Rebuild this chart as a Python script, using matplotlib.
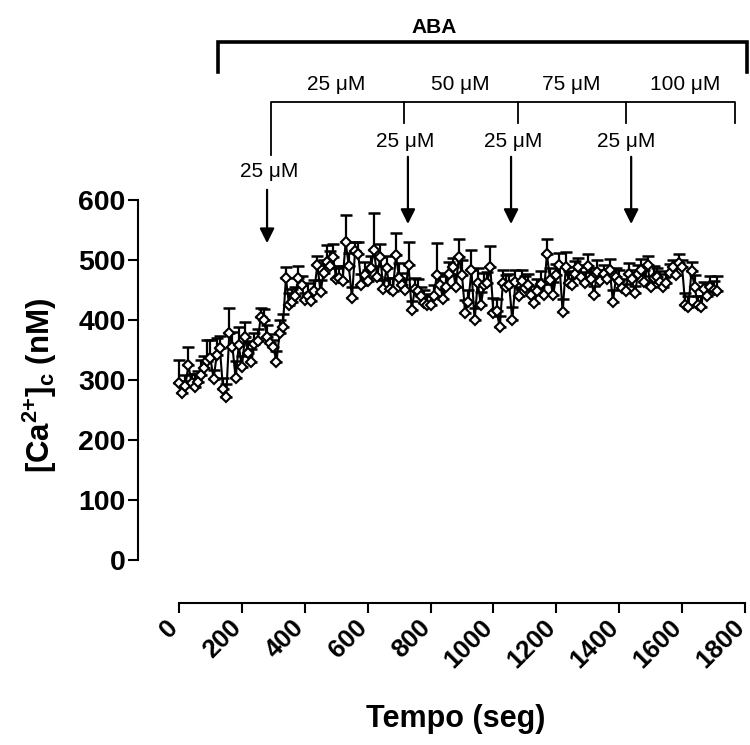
import numpy as np
import matplotlib
matplotlib.use("Agg")
import matplotlib.pyplot as plt
from matplotlib.transforms import ScaledTranslation

plt.rcParams['font.family'] = ['Liberation Sans', 'DejaVu Sans']
plt.rcParams['mathtext.fontset'] = 'custom'
plt.rcParams['mathtext.rm'] = 'Liberation Sans:bold'
plt.rcParams['mathtext.bf'] = 'Liberation Sans:bold'
plt.rcParams['mathtext.it'] = 'Liberation Sans:bold'
plt.rcParams['mathtext.default'] = 'bf'

# ---- data (time in s, [Ca2+]c in nM, upward SEM) ----
time_step = 10
ca_values = [
    295, 278, 290, 325, 295, 288, 297, 308, 320, 332,
    336, 302, 342, 353, 285, 272, 378, 355, 303, 358,
    322, 372, 345, 330, 360, 365, 405, 400, 372, 362,
    355, 330, 378, 388, 470, 425, 430, 440, 470, 458,
    433, 440, 432, 448, 492, 447, 478, 497, 490, 505,
    468, 470, 465, 530, 490, 437, 515, 510, 458, 475,
    465, 487, 517, 472, 505, 452, 487, 452, 448, 508,
    470, 458, 450, 492, 417, 452, 448, 440, 428, 425,
    425, 440, 475, 458, 435, 455, 477, 488, 455, 505,
    475, 412, 430, 483, 400, 462, 425, 458, 462, 488,
    412, 415, 388, 462, 455, 458, 400, 463, 440, 465,
    453, 458, 442, 428, 448, 460, 442, 510, 467, 442,
    475, 492, 413, 488, 462, 458, 477, 488, 472, 462,
    490, 468, 442, 480, 465, 477, 468, 483, 430, 472,
    465, 453, 448, 477, 468, 445, 477, 483, 463, 492,
    455, 470, 472, 463, 455, 462, 478, 488, 475, 495,
    488, 425, 422, 482, 455, 425, 422, 452, 440, 455,
    450, 448,
]
ca_sem = [
    38, 20, 18, 30, 15, 22, 18, 25, 20, 35,
    30, 15, 28, 20, 18, 22, 42, 25, 28, 30,
    18, 24, 20, 22, 18, 20, 15, 18, 20, 15,
    12, 18, 22, 22, 18, 20, 22, 15, 20, 15,
    12, 22, 15, 18, 15, 20, 22, 28, 25, 22,
    18, 20, 25, 45, 22, 18, 15, 20, 18, 22,
    18, 20, 62, 18, 22, 15, 20, 18, 22, 37,
    25, 20, 18, 38, 15, 18, 20, 15, 22, 18,
    15, 18, 53, 20, 22, 18, 20, 15, 22, 30,
    25, 22, 20, 34, 20, 25, 22, 20, 18, 35,
    25, 20, 18, 22, 20, 18, 22, 20, 15, 18,
    20, 18, 15, 18, 20, 22, 18, 25, 20, 22,
    18, 20, 22, 25, 20, 18, 22, 15, 20, 18,
    20, 18, 15, 20, 18, 15, 12, 18, 20, 15,
    18, 15, 12, 18, 15, 12, 15, 18, 20, 15,
    18, 20, 15, 18, 12, 15, 15, 12, 18, 15,
    12, 20, 18, 15, 20, 15, 18, 12, 22, 18,
    15, 25,
]
time_s = np.arange(len(ca_values)) * time_step

x_ticks = [0, 200, 400, 600, 800, 1000, 1200, 1400, 1600, 1800]
y_ticks = [0, 100, 200, 300, 400, 500, 600]

fig = plt.figure(figsize=(7.5, 7.45), dpi=100)
ax = fig.add_axes([138/750, 1-603/745, (760-138)/750, (603-200)/745])

ax.errorbar(time_s, ca_values, yerr=[np.zeros(len(ca_sem)), ca_sem],
            fmt='none', ecolor='black', elinewidth=1.6, capsize=4, capthick=1.8, zorder=2)
ax.plot(time_s, ca_values, color='black', lw=1.5, zorder=3)
ax.plot(time_s, ca_values, linestyle='none', marker='D', markersize=5.5,
        markerfacecolor='white', markeredgecolor='black', markeredgewidth=1.5, zorder=4)

ax.set_xlim(-130.4, 1847.7)
ax.set_ylim(-71.7, 600)
for s in ['top', 'right']:
    ax.spines[s].set_visible(False)
ax.spines['left'].set_bounds(0, 600)
ax.spines['bottom'].set_bounds(0, 1800)
ax.spines['left'].set_linewidth(1.5)
ax.spines['bottom'].set_linewidth(1.5)
ax.set_xticks(x_ticks)
ax.set_yticks(y_ticks)
ax.tick_params(axis='both', direction='out', length=7, width=1.5)
ax.tick_params(axis='y', pad=2)
ax.set_yticklabels([str(v) for v in y_ticks], fontsize=20.5, fontweight='bold')
ax.set_xticklabels([str(v) for v in x_ticks], fontsize=18.5, fontweight='bold',
                   rotation=45, ha='right', va='top')
ax.tick_params(axis='x', pad=2)
shift = ScaledTranslation(4/100, 0, fig.dpi_scale_trans)
for lab in ax.get_xticklabels():
    lab.set_transform(lab.get_transform() + shift)

fig.text(456/750, 1-719/745, 'Tempo (seg)', fontsize=22, fontweight='bold',
         ha='center', va='center')
fig.text(40/750, 1-385/745, r'[Ca$^{2{+}}$]$_c$ (nM)', fontsize=22.5, fontweight='bold',
         rotation=90, ha='center', va='center')

# ---- annotations (data coordinates) ----
kw = dict(color='black', clip_on=False)
# ABA bracket
ax.plot([123, 123, 1805, 1805], [813, 864, 864, 813], lw=2.6, solid_joinstyle='miter', **kw)
ax.text(811, 888, 'ABA', fontsize=15, fontweight='bold', ha='center', va='center')
# concentration bracket
ax.plot([293, 293, 1767, 1767], [675, 763, 763, 728], lw=1.3, **kw)
for tx in [716, 1078, 1422]:
    ax.plot([tx, tx], [763, 728], lw=1.3, **kw)
for tx, lab in zip([499, 894, 1247, 1609], ['25 μM', '50 μM', '75 μM', '100 μM']):
    ax.text(tx, 792, lab, fontsize=15, ha='center', va='center')
# arrows
arrow_kw = dict(arrowstyle='-|>', mutation_scale=22, lw=1.6, color='black', shrinkA=0, shrinkB=0)
ax.text(286, 647, '25 μM', fontsize=15, ha='center', va='center')
ax.annotate('', xy=(280, 528), xytext=(280, 617), arrowprops=arrow_kw, annotation_clip=False)
for tt, ta in zip([719, 1062, 1422], [728, 1056, 1438]):
    ax.text(tt, 698, '25 μM', fontsize=15, ha='center', va='center')
    ax.annotate('', xy=(ta, 560), xytext=(ta, 672), arrowprops=arrow_kw, annotation_clip=False)

fig.savefig('out.png', dpi=100)
